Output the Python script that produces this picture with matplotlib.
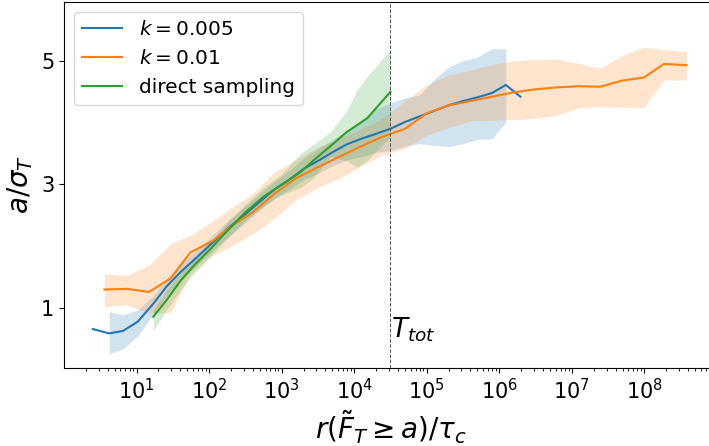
import numpy as np
import matplotlib.pyplot as plt

# k = 0.005
x_k005 = [2.5, 4.2, 6.5, 10.4, 17, 26, 41, 62, 105, 195, 316, 500, 794,
          1.26e3, 2.0e3, 3.16e3, 5.0e3, 7.94e3, 1.26e4, 2.0e4, 3.16e4, 5.0e4,
          7.94e4, 1.26e5, 2.0e5, 3.16e5, 5.0e5, 7.94e5, 1.23e6, 1.95e6]
y_k005 = [0.66, 0.59, 0.63, 0.78, 1.07, 1.35, 1.59, 1.78, 2.03, 2.32, 2.52,
          2.72, 2.92, 3.07, 3.25, 3.38, 3.52, 3.65, 3.74, 3.82, 3.90, 4.01,
          4.10, 4.19, 4.28, 4.35, 4.41, 4.48, 4.61, 4.42]
hi_k005 = [np.nan, 0.94, 0.89, 0.97, 1.20, 1.48, 1.72, 1.90, 2.15, 2.45, 2.65,
           2.85, 3.05, 3.22, 3.42, 3.58, 3.72, 3.88, 4.05, 4.22, 4.32, 4.40,
           4.45, 4.70, 4.90, 5.00, 5.06, 5.20, 5.19, np.nan]
lo_k005 = [np.nan, 0.26, 0.34, 0.55, 0.90, 1.20, 1.45, 1.65, 1.90, 2.18, 2.38,
           2.58, 2.78, 2.92, 3.08, 3.18, 3.30, 3.40, 3.45, 3.52, 3.55, 3.62,
           3.66, 3.63, 3.61, 3.66, 3.73, 3.74, 4.01, np.nan]

# k = 0.01
x_k01 = [3.6, 7.4, 14.8, 29.5, 55, 110, 200, 400, 794, 1.58e3, 3.16e3,
         6.3e3, 1.26e4, 2.3e4, 5.0e4, 1.0e5, 2.0e5, 4.0e5, 7.94e5, 1.58e6,
         3.16e6, 6.2e6, 1.23e7, 2.45e7, 4.9e7, 9.8e7, 1.86e8, 3.8e8]
y_k01 = [1.30, 1.31, 1.26, 1.48, 1.90, 2.08, 2.32, 2.55, 2.85, 3.10, 3.28,
         3.45, 3.62, 3.76, 3.90, 4.15, 4.28, 4.35, 4.42, 4.49, 4.54, 4.57,
         4.59, 4.58, 4.68, 4.73, 4.95, 4.93]
hi_k01 = [1.55, 1.53, 1.69, 2.04, 2.18, 2.40, 2.62, 2.85, 3.20, 3.40, 3.60,
          3.75, 3.90, 4.05, 4.35, 4.61, 4.77, 4.85, 4.94, 5.00, 5.02, 5.03,
          4.96, 4.88, 5.08, 5.22, 5.18, 5.15]
lo_k01 = [1.02, 1.05, 0.92, 0.92, 1.55, 1.85, 2.00, 2.20, 2.45, 2.75, 2.95,
          3.10, 3.30, 3.47, 3.58, 3.80, 3.92, 4.03, 4.04, 4.05, 4.07, 4.12,
          4.24, 4.26, 4.25, 4.24, 4.69, 4.69]

# direct sampling
x_ds = [17, 26, 41, 62, 105, 178, 316, 562, 955, 1.82e3, 2.75e3, 4.7e3,
        7.94e3, 1.1e4, 1.51e4, 3.16e4]
y_ds = [0.86, 1.13, 1.45, 1.69, 1.96, 2.25, 2.55, 2.80, 2.98, 3.20, 3.39,
        3.62, 3.85, 3.96, 4.07, 4.50]
hi_ds = [0.97, 1.29, 1.58, 1.80, 2.08, 2.38, 2.68, 2.95, 3.15, 3.50, 3.65,
         3.85, 4.20, 4.53, 4.75, 5.18]
lo_ds = [0.64, 0.97, 1.30, 1.56, 1.84, 2.12, 2.42, 2.65, 2.82, 2.95, 3.10,
         3.45, 3.38, 3.28, 3.39, 3.77]

T_tot = 3.16e4

fig = plt.figure(figsize=(7.09, 4.46), dpi=100)
ax = fig.add_axes([64 / 709, 78 / 446, 653 / 709, 366.5 / 446])

series = [
    (x_k005, y_k005, lo_k005, hi_k005, 'tab:blue', r'$k=0.005$'),
    (x_k01, y_k01, lo_k01, hi_k01, 'tab:orange', r'$k=0.01$'),
    (x_ds, y_ds, lo_ds, hi_ds, 'tab:green', 'direct sampling'),
]
for x, y, lo, hi, c, lab in series:
    ax.plot(x, y, color=c, lw=1.5, label=lab)
    ax.fill_between(x, lo, hi, color=c, alpha=0.2, lw=0)

ax.axvline(T_tot, color='#555555', ls='--', lw=0.7)
ax.text(T_tot * 1.02, 0.88, r'$T_{tot}$', fontsize=19, va='top')

ax.set_xscale('log')
ax.set_xlim(1, 1e9)
ax.set_ylim(0.03, 5.96)
ax.set_yticks([1, 3, 5])
ax.set_xticks([1e1, 1e2, 1e3, 1e4, 1e5, 1e6, 1e7, 1e8])
ax.tick_params(labelsize=15)
ax.set_xlabel(r'$r(\tilde{F}_T \geq a)/\tau_c$', fontsize=20)
ax.set_ylabel(r'$a/\sigma_T$', fontsize=20)
ax.legend(loc='upper left', fontsize=14.5)

fig.savefig('out.png', dpi=100)
